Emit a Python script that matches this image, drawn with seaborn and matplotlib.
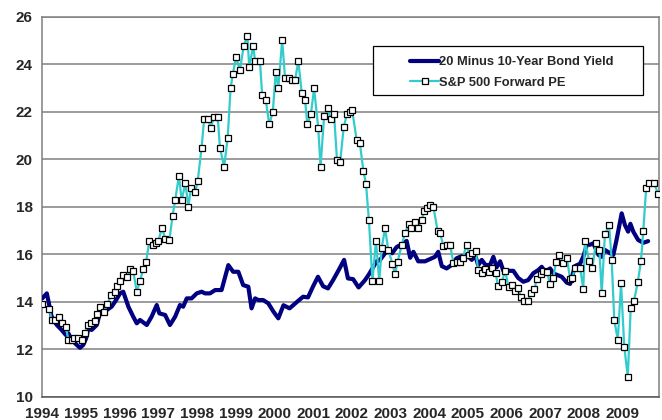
import numpy as np
import pandas as pd
import matplotlib
matplotlib.use("Agg")
import matplotlib.pyplot as plt
from matplotlib.patches import Rectangle
from matplotlib.lines import Line2D
import seaborn as sns

# ---------------- data (months since Jan 1994) ----------------
pe_month = [0, 2.2, 2.9, 4.0, 5.3, 6.0, 7.3, 8.1, 9.1, 9.9,
            11.2, 12.2, 13.1, 14.2, 15.0, 16.3, 17.1, 17.9, 19.2, 20.2,
            21.3, 22.6, 23.2, 24.1, 25.1, 26.4, 27.2, 28.2, 29.3, 30.3,
            31.3, 32.2, 33.2, 34.4, 35.3, 36.0, 37.1, 38.2, 39.4, 40.4,
            41.2, 42.4, 43.2, 44.4, 45.3, 46.1, 47.4, 48.2, 49.4, 50.2,
            51.5, 52.2, 53.3, 54.4, 55.1, 56.4, 57.5, 58.4, 59.1, 60.1,
            61.3, 62.5, 63.6, 64.2, 65.4, 66.0, 67.5, 68.2, 69.3, 70.4,
            71.5, 72.4, 73.2, 74.4, 75.3, 76.4, 77.4, 78.4, 79.4, 80.5,
            81.5, 82.2, 83.3, 84.3, 85.6, 86.3, 87.4, 88.5, 89.5, 90.5,
            91.4, 92.4, 93.5, 94.5, 95.4, 96.1, 97.5, 98.5, 99.6, 100.4,
            101.3, 102.4, 103.5, 104.5, 105.3, 106.3, 107.3, 108.6, 109.4, 110.2,
            111.5, 112.5, 113.6, 114.4, 115.6, 116.5, 117.7, 118.4, 119.3, 120.3,
            121.3, 122.6, 123.4, 124.4, 125.4, 126.5, 127.5, 128.5, 129.6, 130.4,
            131.6, 132.4, 133.2, 134.4, 135.2, 136.3, 137.3, 138.6, 139.6, 140.6,
            141.3, 142.5, 143.6, 144.6, 145.6, 146.6, 147.5, 148.5, 149.5, 150.6,
            151.6, 152.6, 153.4, 154.6, 155.4, 156.5, 157.5, 158.5, 159.3, 160.4,
            161.6, 162.7, 163.7, 164.4, 165.2, 166.8, 167.8, 168.3, 169.6, 170.6,
            171.7, 172.8, 173.5, 174.5, 175.8, 176.6, 177.4, 178.5, 179.5, 180.5,
            181.6, 182.5, 183.5, 184.7, 185.7, 186.4, 187.3, 188.3, 189.7, 191.1]

pe_value = [13.89, 13.69, 13.23, 13.25, 13.37, 13.09, 12.92, 12.39, 12.39, 12.48,
            12.48, 12.39, 12.67, 13.02, 13.09, 13.19, 13.47, 13.79, 13.58, 13.89,
            14.28, 14.42, 14.66, 14.87, 15.11, 15.05, 15.36, 15.29, 14.42, 14.87,
            15.38, 15.68, 16.57, 16.39, 16.49, 16.57, 17.09, 16.65, 16.58, 17.61,
            18.27, 19.31, 18.27, 18.98, 18.0, 18.78, 18.6, 19.08, 20.48, 21.69,
            21.69, 21.30, 21.79, 21.79, 20.48, 19.68, 20.91, 22.98, 23.59, 24.29,
            23.76, 24.78, 25.19, 23.87, 24.78, 24.13, 24.13, 22.70, 22.49, 21.47,
            22.0, 23.68, 22.98, 25.02, 23.41, 23.41, 23.33, 23.33, 24.13, 22.77,
            22.49, 21.47, 21.89, 22.98, 21.30, 19.68, 21.80, 22.15, 21.68, 21.89,
            19.97, 19.90, 21.37, 21.89, 22.0, 22.07, 20.81, 20.67, 19.5, 18.96,
            17.44, 14.87, 16.56, 14.87, 16.28, 17.1, 16.18, 15.6, 15.16, 15.68,
            16.4, 16.88, 17.26, 17.1, 17.35, 17.1, 17.44, 17.8, 17.95, 18.07,
            18.0, 16.99, 16.88, 16.34, 16.39, 16.39, 15.62, 15.68, 15.68, 15.85,
            16.39, 15.97, 16.04, 16.14, 15.33, 15.2, 15.36, 15.24, 15.43, 15.22,
            14.67, 14.84, 15.29, 14.61, 14.70, 14.45, 14.56, 14.19, 14.04, 14.04,
            14.35, 14.53, 14.96, 15.17, 15.29, 15.26, 14.73, 14.98, 15.68, 15.97,
            15.62, 15.85, 14.95, 14.98, 15.43, 15.43, 14.53, 16.57, 15.73, 15.43,
            16.46, 16.18, 14.35, 16.84, 17.23, 15.76, 13.23, 12.39, 14.77, 12.11,
            10.84, 13.74, 14.03, 14.82, 15.73, 16.99, 18.8, 18.98, 18.98, 18.53]

bond_month = [0, 1.4, 2.9, 4.5, 6.0, 7.3, 8.1, 9.1, 10.7, 11.7,
              12.7, 13.6, 14.3, 15.3, 16.9, 17.7, 18.9, 20.0, 21.5, 22.9,
              24.1, 25.1, 26.7, 28.2, 29.3, 30.3, 32.4, 33.9, 35.5, 36.3,
              38.1, 39.6, 41.2, 42.7, 43.7, 44.8, 46.3, 47.9, 49.4, 50.5,
              52.0, 53.6, 55.6, 57.7, 59.2, 60.8, 62.3, 63.9, 64.9, 66.0,
              67.0, 68.5, 70.1, 71.7, 73.2, 74.8, 76.7, 78.8, 80.9, 82.4,
              84.0, 85.5, 87.1, 88.6, 90.2, 92.2, 93.6, 94.8, 96.4, 98.1,
              100.1, 101.3, 102.6, 103.7, 104.7, 106.3, 107.5, 108.5, 109.9, 112.0,
              113.0, 114.1, 115.1, 116.6, 118.7, 120.3, 121.8, 122.8, 123.9, 125.4,
              127.0, 128.5, 129.6, 131.6, 133.2, 134.2, 135.2, 136.3, 137.5, 138.9,
              139.9, 140.9, 142.0, 143.0, 144.5, 146.1, 147.6, 149.2, 150.7, 152.3,
              153.8, 154.9, 155.9, 157.5, 158.5, 161.1, 162.7, 163.7, 165.2, 166.8,
              167.8, 168.9, 169.9, 170.9, 172.5, 173.5, 174.5, 176.1, 177.1, 178.1,
              179.7, 180.7, 181.7, 182.4, 183.3, 184.8, 186.4, 187.9]

bond_value = [14.14, 14.35, 13.37, 13.02, 12.81, 12.6, 12.67, 12.39, 12.18, 12.06,
              12.18, 12.46, 12.88, 12.81, 13.02, 13.44, 13.58, 13.65, 13.79, 14.07,
              14.35, 14.42, 13.79, 13.37, 13.09, 13.23, 13.02, 13.37, 13.86, 13.51,
              13.44, 13.02, 13.37, 13.86, 13.79, 14.14, 14.14, 14.35, 14.42, 14.35,
              14.35, 14.49, 14.49, 15.54, 15.26, 15.26, 14.7, 14.63, 13.72, 14.14,
              14.07, 14.07, 13.93, 13.58, 13.30, 13.85, 13.72, 13.97, 14.21, 14.18,
              14.65, 15.05, 14.65, 14.56, 14.91, 15.4, 15.76, 14.98, 14.95, 14.6,
              14.91, 15.15, 15.45, 15.7, 15.75, 16.04, 16.15, 16.04, 16.3, 16.46,
              16.56, 15.85, 16.1, 15.7, 15.7, 15.8, 15.89, 16.1, 15.5, 15.4,
              15.55, 15.83, 15.89, 15.97, 15.76, 15.97, 15.54, 15.76, 15.54, 15.55,
              15.89, 15.45, 15.7, 15.3, 15.3, 15.3, 15.0, 14.84, 14.91, 15.2,
              15.33, 15.47, 15.26, 15.4, 15.19, 15.05, 14.8, 14.75, 15.5, 15.6,
              15.9, 16.4, 16.4, 16.46, 15.97, 15.89, 16.18, 16.04, 15.97, 16.6,
              17.72, 17.23, 16.95, 17.28, 16.95, 16.6, 16.48, 16.55]

year_ticks = list(range(1994, 2010))
y_ticks = [10, 12, 14, 16, 18, 20, 22, 24, 26]
bond_label = "20 Minus 10-Year Bond Yield"
pe_label = "S&P 500 Forward PE"

bond_df = pd.DataFrame({"year": 1994 + np.array(bond_month) / 12.0, "value": bond_value})
pe_df = pd.DataFrame({"year": 1994 + np.array(pe_month) / 12.0, "value": pe_value})

# ---------------- style ----------------
sns.set_style("white")
plt.rcParams["font.family"] = ["Liberation Sans", "DejaVu Sans"]
plt.rcParams["font.weight"] = "bold"

BOND_C = "#000080"
PE_C = "#33CCCC"
GRID_C = "#808080"
TICK_FS = 11
LEG_FS = 9.3

fig = plt.figure(figsize=(6.62, 4.20), dpi=100)
ax = fig.add_axes([42.3 / 662, 1 - 396.7 / 420, (659 - 42.3) / 662, (396.7 - 16.7) / 420])

sns.lineplot(data=bond_df, x="year", y="value", ax=ax, color=BOND_C, lw=3.0,
             estimator=None, sort=False, zorder=3, legend=False)
sns.lineplot(data=pe_df, x="year", y="value", ax=ax, color=PE_C, lw=1.6,
             marker="s", markersize=4.8, markerfacecolor="white",
             markeredgecolor="black", markeredgewidth=0.9,
             estimator=None, sort=False, zorder=4, legend=False)

ax.set_xlim(1994, 1994 + (659 - 42.3) / 38.69)
ax.set_ylim(10, 26)
ax.set_yticks(y_ticks)
ax.set_xticks(year_ticks)
ax.set_xticklabels([str(y) for y in year_ticks])
ax.set_xlabel("")
ax.set_ylabel("")
ax.grid(axis="y", color=GRID_C, lw=1.1)
ax.grid(axis="x", visible=False)
ax.set_axisbelow(True)
for side in ["left", "right", "top"]:
    ax.spines[side].set_color(GRID_C)
    ax.spines[side].set_linewidth(1.1)
ax.spines["bottom"].set_color("#555555")
ax.spines["bottom"].set_linewidth(1.1)
ax.tick_params(axis="both", direction="out", length=3, width=1, color=GRID_C,
               labelsize=TICK_FS, pad=4)
ax.tick_params(axis="x", color="#555555", pad=4.5)
for lab in ax.get_xticklabels() + ax.get_yticklabels():
    lab.set_fontweight("bold")

# legend box
box = Rectangle((373 / 662, 1 - 94.5 / 420), (643 - 373) / 662, (94.5 - 46.5) / 420,
                transform=fig.transFigure, facecolor="white", edgecolor="black",
                lw=0.9, zorder=5)
fig.patches.append(box)
handles = [Line2D([], [], color=BOND_C, lw=3.0),
           Line2D([], [], color=PE_C, lw=1.6, marker="s", markersize=4.8,
                  markerfacecolor="white", markeredgecolor="black", markeredgewidth=0.9)]
leg = fig.legend(handles, [bond_label, pe_label], loc="upper left",
                 bbox_to_anchor=(400 / 662, 1 - 46.5 / 420), frameon=False,
                 prop={"weight": "bold", "size": LEG_FS}, handlelength=2.3,
                 handletextpad=0.0, labelspacing=0.65, borderpad=0.25)
leg.set_zorder(6)

fig.savefig("out.png", dpi=100)
